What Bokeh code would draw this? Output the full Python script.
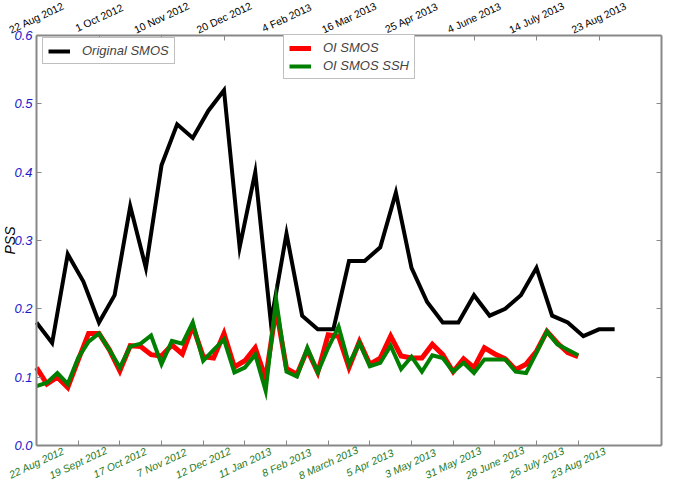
import math
from bokeh.plotting import figure
from bokeh.models import (Range1d, LinearAxis, FixedTicker, Legend, LegendItem,
                          LabelSet, Label, ColumnDataSource)
from bokeh.embed import file_html
from bokeh.resources import INLINE
from bokeh.core.properties import value

# ---- data (x in weeks since 22 Aug 2012) ----
original_smos = [0.18, 0.15, 0.28, 0.24, 0.18, 0.22, 0.35, 0.26, 0.41, 0.47,
                 0.45, 0.49, 0.52, 0.29, 0.40, 0.18, 0.31, 0.19, 0.17, 0.17,
                 0.27, 0.27, 0.29, 0.37, 0.26, 0.21, 0.18, 0.18, 0.22, 0.19,
                 0.20, 0.22, 0.26, 0.19, 0.18, 0.16, 0.17, 0.17]
original_step_weeks = 1.5

oi_smos = [0.114, 0.090, 0.100, 0.085, 0.125, 0.164, 0.164, 0.140, 0.109, 0.146,
           0.145, 0.133, 0.131, 0.147, 0.134, 0.175, 0.130, 0.128, 0.164, 0.115,
           0.124, 0.143, 0.098, 0.200, 0.113, 0.104, 0.140, 0.107, 0.162, 0.160,
           0.114, 0.152, 0.119, 0.128, 0.160, 0.131, 0.128, 0.128, 0.148, 0.133,
           0.108, 0.127, 0.114, 0.143, 0.134, 0.127, 0.111, 0.119, 0.138, 0.167,
           0.150, 0.136, 0.130]

oi_smos_ssh = [0.087, 0.092, 0.106, 0.090, 0.128, 0.152, 0.164, 0.140, 0.114, 0.145,
               0.149, 0.161, 0.119, 0.153, 0.149, 0.180, 0.124, 0.140, 0.155, 0.107,
               0.114, 0.133, 0.080, 0.214, 0.108, 0.101, 0.143, 0.107, 0.143, 0.174,
               0.119, 0.150, 0.116, 0.121, 0.146, 0.112, 0.130, 0.108, 0.132, 0.128,
               0.108, 0.121, 0.106, 0.126, 0.126, 0.126, 0.108, 0.106, 0.136, 0.167,
               0.148, 0.140, 0.132]

bottom_tick_weeks = [0, 4, 8, 12, 16, 20, 24, 28, 32, 36, 40, 44, 48, 52]
bottom_labels = ["22 Aug 2012", "19 Sept 2012", "17 Oct 2012", "7 Nov 2012",
                 "12 Dec 2012", "11 Jan 2013", "8 Feb 2013", "8 March 2013",
                 "5 Apr 2013", "3 May  2013", "31 May 2013", "28 June 2013",
                 "26 July 2013", "23 Aug 2013"]

top_tick_weeks = [0, 6, 12, 18, 24, 30, 36, 42, 48, 54]
top_labels = ["22 Aug 2012", "1 Oct 2012", "10 Nov 2012", "20 Dec 2012",
              "4 Feb 2013", "16 Mar 2013", "25 Apr 2013", "4 June 2013",
              "14 July 2013", "23 Aug 2013"]

y_ticks = [0.0, 0.1, 0.2, 0.3, 0.4, 0.5, 0.6]
y_tick_labels = ["0.0", "0.1", "0.2", "0.3", "0.4", "0.5", "0.6"]

X_MIN, X_MAX = 0, 60
Y_MIN, Y_MAX = 0.0, 0.6

original_x = [i * original_step_weeks for i in range(len(original_smos))]
oi_x = list(range(len(oi_smos)))

FONT = "Liberation Sans"
AXIS_GRAY = "#888888"

W, H = 664, 480
# data box inside the canvas (pixels from the canvas' left / top)
BOX_L, BOX_R, BOX_T, BOX_B = 36, 661, 35, 445
xs = (BOX_R - BOX_L) / (X_MAX - X_MIN)
ys = (BOX_B - BOX_T) / (Y_MAX - Y_MIN)

p = figure(width=W, height=H, output_backend="svg", toolbar_location=None,
           x_range=Range1d(X_MIN - BOX_L / xs, X_MAX + (W - BOX_R) / xs),
           y_range=Range1d(Y_MIN - (H - BOX_B) / ys, Y_MAX + BOX_T / ys),
           x_axis_location=None, y_axis_location=None,
           min_border=0)
p.xgrid.visible = False
p.ygrid.visible = False
p.outline_line_color = None
p.background_fill_color = "white"


def make_axis(ticks, loc, bounds):
    ax = LinearAxis(ticker=FixedTicker(ticks=ticks),
                    major_label_overrides={t: "" for t in ticks},
                    fixed_location=loc, bounds=bounds)
    ax.axis_line_color = AXIS_GRAY
    ax.axis_line_width = 2
    ax.major_tick_in = 5
    ax.major_tick_out = 0
    ax.major_tick_line_color = AXIS_GRAY
    ax.major_tick_line_width = 1
    ax.minor_tick_line_color = None
    ax.major_label_text_font_size = "0px"
    ax.major_label_standoff = 0
    return ax


p.add_layout(make_axis(y_ticks, X_MIN, (Y_MIN, Y_MAX)), "left")
p.add_layout(make_axis(y_ticks, X_MAX, (Y_MIN, Y_MAX)), "right")
p.add_layout(make_axis(bottom_tick_weeks, Y_MIN, (X_MIN, X_MAX)), "below")
p.add_layout(make_axis(top_tick_weeks, Y_MAX, (X_MIN, X_MAX)), "above")

# lines
r_black = p.line(original_x, original_smos, line_color="black", line_width=4,
                 line_join="miter")
r_red = p.line(oi_x, oi_smos, line_color="#ff0000", line_width=5, line_join="miter")
r_green = p.line(oi_x, oi_smos_ssh, line_color="#007f00", line_width=4,
                 line_join="miter")

# tick labels
ysrc = ColumnDataSource(dict(x=[X_MIN] * len(y_ticks), y=y_ticks, text=y_tick_labels))
p.add_layout(LabelSet(x="x", y="y", text="text", source=ysrc, x_offset=-4,
                      text_align="right", text_baseline="middle",
                      text_font=value(FONT), text_font_style="italic",
                      text_font_size="13px", text_color="#1a1acc"))
p.add_layout(Label(x=X_MIN, y=(Y_MIN + Y_MAX) / 2, x_offset=-27, text="PSS",
                   angle=math.pi / 2, text_align="center", text_baseline="middle",
                   text_font=FONT, text_font_style="italic", text_font_size="14px",
                   text_color="black"))

bsrc = ColumnDataSource(dict(x=bottom_tick_weeks, y=[Y_MIN] * len(bottom_tick_weeks),
                             text=bottom_labels))
p.add_layout(LabelSet(x="x", y="y", text="text", source=bsrc, angle=0.436,
                      text_align="center", text_baseline="middle", y_offset=-17,
                      text_font=value(FONT), text_font_style="italic",
                      text_font_size="10.5px", text_color="#1f7a1f"))
tsrc = ColumnDataSource(dict(x=top_tick_weeks, y=[Y_MAX] * len(top_tick_weeks),
                             text=top_labels))
p.add_layout(LabelSet(x="x", y="y", text="text", source=tsrc, angle=0.436,
                      text_align="center", text_baseline="middle", y_offset=18,
                      text_font=value(FONT), text_font_size="10.5px",
                      text_color="black"))


def style_legend(lg):
    lg.label_text_font = FONT
    lg.label_text_font_style = "italic"
    lg.label_text_font_size = "13px"
    lg.glyph_width = 22
    lg.glyph_height = 12
    lg.label_height = 12
    lg.label_standoff = 12
    lg.padding = 5
    lg.spacing = 3
    lg.margin = 0
    lg.border_line_color = "#808080"
    lg.border_line_width = 1
    lg.background_fill_alpha = 1


leg1 = Legend(items=[LegendItem(label="Original SMOS", renderers=[r_black])],
              location=(BOX_L + 6, H - BOX_T - 7 - 22))
style_legend(leg1)
leg2 = Legend(items=[LegendItem(label="OI SMOS", renderers=[r_red]),
                     LegendItem(label="OI SMOS SSH", renderers=[r_green])],
              location=(283, H - BOX_T - 7 - 37))
style_legend(leg2)
p.add_layout(leg1)
p.add_layout(leg2)

open("out.html", "w").write(file_html(p, INLINE))
